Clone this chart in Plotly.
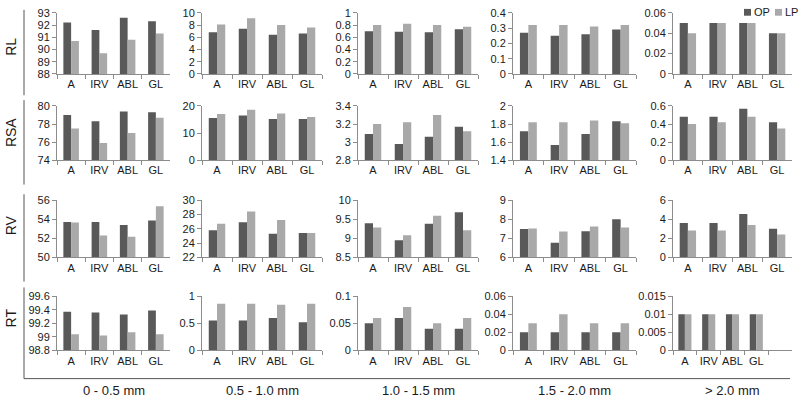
import plotly.graph_objects as go

# ---------------- data ----------------
categories = ["A", "IRV", "ABL", "GL"]
row_names = ["RL", "RSA", "RV", "RT"]
col_names = ["0 - 0.5 mm", "0.5 - 1.0 mm", "1.0 - 1.5 mm", "1.5 - 2.0 mm", "> 2.0 mm"]
series_names = ["OP", "LP"]

# values per column (0-0.5, 0.5-1.0, 1.0-1.5, 1.5-2.0, >2.0), each over categories
rl_op = [[92.2, 91.6, 92.6, 92.3], [6.8, 7.4, 6.4, 6.6], [0.70, 0.69, 0.68, 0.73],
         [0.27, 0.25, 0.26, 0.29], [0.05, 0.05, 0.05, 0.04]]
rl_lp = [[90.7, 89.7, 90.8, 91.3], [8.1, 9.1, 8.0, 7.6], [0.80, 0.82, 0.80, 0.77],
         [0.32, 0.32, 0.31, 0.32], [0.04, 0.05, 0.05, 0.04]]

rsa_op = [[79.0, 78.3, 79.4, 79.3], [15.6, 16.5, 15.2, 15.2], [3.09, 2.98, 3.06, 3.17],
          [1.72, 1.57, 1.69, 1.83], [0.48, 0.48, 0.57, 0.42]]
rsa_lp = [[77.5, 75.9, 77.0, 78.7], [17.0, 18.6, 17.2, 15.9], [3.20, 3.22, 3.30, 3.12],
          [1.82, 1.82, 1.84, 1.81], [0.40, 0.42, 0.48, 0.35]]

rv_op = [[53.7, 53.7, 53.4, 53.85], [25.8, 26.9, 25.3, 25.4], [9.39, 8.95, 9.38, 9.68],
         [7.48, 6.77, 7.36, 8.0], [3.6, 3.6, 4.55, 3.0]]
rv_lp = [[53.65, 52.3, 52.15, 55.35], [26.7, 28.4, 27.2, 25.4], [9.28, 9.08, 9.59, 9.21],
         [7.51, 7.35, 7.62, 7.56], [2.8, 2.8, 3.4, 2.4]]

rt_op = [[99.37, 99.36, 99.33, 99.39], [0.55, 0.55, 0.60, 0.52], [0.05, 0.06, 0.04, 0.04],
         [0.02, 0.02, 0.02, 0.02], [0.01, 0.01, 0.01, 0.01]]
rt_lp = [[99.04, 99.02, 99.07, 99.04], [0.86, 0.86, 0.84, 0.86], [0.06, 0.08, 0.05, 0.06],
         [0.03, 0.04, 0.03, 0.03], [0.01, 0.01, 0.01, 0.01]]

# y-axis ranges and tick steps per panel
rl_ranges = [[88, 93], [0, 10], [0, 1], [0, 0.4], [0, 0.06]]
rl_dticks = [1, 2, 0.2, 0.1, 0.02]
rsa_ranges = [[74, 80], [0, 20], [2.8, 3.4], [1.4, 2.0], [0, 0.6]]
rsa_dticks = [2, 10, 0.2, 0.2, 0.2]
rv_ranges = [[50, 56], [22, 30], [8.5, 10], [6, 9], [0, 6]]
rv_dticks = [2, 2, 0.5, 1, 2]
rt_ranges = [[98.8, 99.6], [0, 1], [0, 0.1], [0, 0.06], [0, 0.015]]
rt_dticks = [0.2, 0.5, 0.05, 0.02, 0.005]

# ---------------- layout helpers ----------------
W, H = 800, 405
OP_COLOR = "#595959"
LP_COLOR = "#a9a9a9"
AXIS_COLOR = "#8c8c8c"
FONT = "Liberation Sans, Arial, sans-serif"

col_px = [(57, 170), (202, 322), (358, 478), (513, 636), (673, 792)]
row_px = [(7, 70), (103, 159), (200, 259), (299, 355)]

def px_x(x):
    return x / W

def px_y(y):
    return 1 - y / H

all_op = [rl_op, rsa_op, rv_op, rt_op]
all_lp = [rl_lp, rsa_lp, rv_lp, rt_lp]
all_ranges = [rl_ranges, rsa_ranges, rv_ranges, rt_ranges]
all_dticks = [rl_dticks, rsa_dticks, rv_dticks, rt_dticks]

fig = go.Figure()
layout = {}

for r in range(4):
    for c in range(5):
        k = r * 5 + c + 1
        xa = "x" if k == 1 else f"x{k}"
        ya = "y" if k == 1 else f"y{k}"
        xkey = "xaxis" if k == 1 else f"xaxis{k}"
        ykey = "yaxis" if k == 1 else f"yaxis{k}"
        cats = list(categories)
        last = (r == 3 and c == 4)
        if last:
            cats = cats + [" "]
        for s_name, vals, color in ((series_names[0], all_op[r][c], OP_COLOR),
                                    (series_names[1], all_lp[r][c], LP_COLOR)):
            fig.add_trace(go.Bar(
                x=categories, y=vals, name=s_name, marker_color=color,
                marker_line_width=0, xaxis=xa, yaxis=ya, showlegend=False,
                offsetgroup=s_name,
            ))
        x0, x1 = col_px[c]
        y0, y1 = row_px[r]
        layout[xkey] = dict(
            domain=[px_x(x0), px_x(x1)], anchor=ya, type="category",
            categoryorder="array", categoryarray=cats,
            range=[-0.5, len(cats) - 0.5],
            tickson="boundaries", ticks="outside", ticklen=4, tickcolor=AXIS_COLOR,
            showline=True, linecolor=AXIS_COLOR, linewidth=1, showgrid=False,
            tickangle=0,
            tickfont=dict(size=11, color="#1a1a1a", family=FONT), fixedrange=True,
        )
        rng = all_ranges[r][c]
        layout[ykey] = dict(
            domain=[px_y(y1), px_y(y0)], anchor=xa, range=rng,
            tick0=rng[0], dtick=all_dticks[r][c],
            ticks="outside", ticklen=4, tickcolor=AXIS_COLOR,
            showline=True, linecolor=AXIS_COLOR, linewidth=1,
            showgrid=False, zeroline=False,
            tickfont=dict(size=11, color="#1a1a1a", family=FONT), fixedrange=True,
        )

annotations = []
shapes = []

# row labels and row side lines
row_label_y = [42, 131, 226, 322]
row_line_span = [(4, 92), (97, 184), (194, 284), (290, 384)]
for r in range(4):
    annotations.append(dict(
        text=row_names[r], x=px_x(11), y=px_y(row_label_y[r]), xref="paper", yref="paper",
        showarrow=False, textangle=-90, xanchor="center", yanchor="middle",
        font=dict(size=14, color="#1a1a1a", family=FONT),
    ))
    ya0, ya1 = row_line_span[r]
    shapes.append(dict(type="line", xref="paper", yref="paper",
                       x0=px_x(24), x1=px_x(24), y0=px_y(ya0), y1=px_y(ya1),
                       line=dict(color="#555555", width=1)))

# bottom line
shapes.append(dict(type="line", xref="paper", yref="paper",
                   x0=px_x(24), x1=px_x(790), y0=px_y(384), y1=px_y(384),
                   line=dict(color="#555555", width=1)))

# column labels
for c in range(5):
    x0, x1 = col_px[c]
    annotations.append(dict(
        text=col_names[c], x=px_x((x0 + x1) / 2), y=px_y(396), xref="paper", yref="paper",
        showarrow=False, xanchor="center", yanchor="middle",
        font=dict(size=13, color="#1a1a1a", family=FONT),
    ))

# legend (compact, top-right): colored squares + labels
legend_items = [(series_names[0], OP_COLOR, 744), (series_names[1], LP_COLOR, 775)]
for name, color, lx in legend_items:
    shapes.append(dict(type="rect", xref="paper", yref="paper",
                       x0=px_x(lx), x1=px_x(lx + 7), y0=px_y(10), y1=px_y(3),
                       fillcolor=color, line=dict(width=0)))
    annotations.append(dict(
        text=name, x=px_x(lx + 8), y=px_y(6.5), xref="paper", yref="paper",
        showarrow=False, xanchor="left", yanchor="middle",
        font=dict(size=11, color="#1a1a1a", family=FONT),
    ))

fig.update_layout(
    width=W, height=H, margin=dict(l=0, r=0, t=0, b=0),
    paper_bgcolor="white", plot_bgcolor="white",
    barmode="group", bargap=0.45, bargroupgap=0,
    showlegend=False, annotations=annotations, shapes=shapes,
    font=dict(family=FONT, size=11, color="#1a1a1a"),
    **layout,
)

fig.write_html(
    "out.html",
    config={"displayModeBar": False},
    post_script="document.body.style.margin='0';document.body.style.overflow='hidden';",
)
